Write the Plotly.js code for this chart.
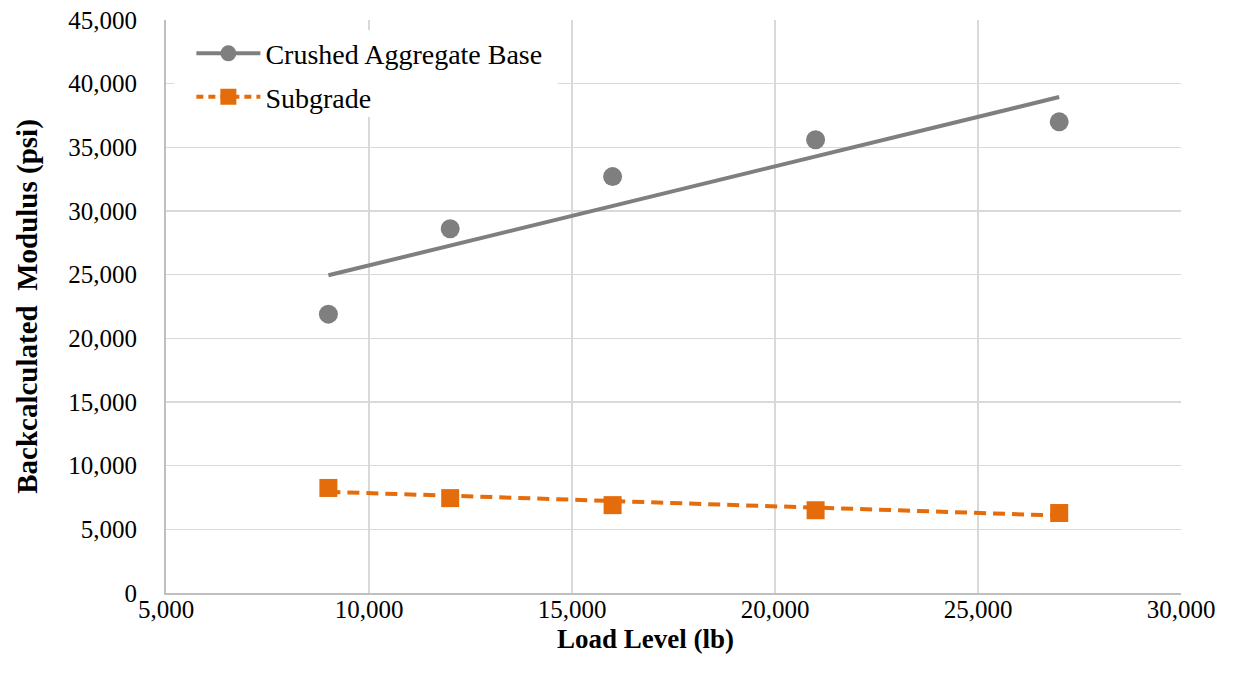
<!DOCTYPE html>
<html>
<head>
<meta charset="utf-8">
<script src="https://cdn.plot.ly/plotly-3.0.1.min.js"></script>
<style>html,body{margin:0;padding:0;background:#fff;}#chart{width:1245px;height:675px;}</style>
</head>
<body>
<div id="chart"></div>
<script>
// Data
const loadLevels = [9000, 12000, 16000, 21000, 27000];
const baseModulus = [21900, 28600, 32700, 35600, 37000];
const subgradeModulus = [8250, 7450, 6900, 6500, 6280];
// Linear trend lines (endpoints)
const trendX = [9000, 27000];
const baseTrend = [24950, 38950];
const subgradeTrend = [7950, 6080];
const xTickVals = [5000, 10000, 15000, 20000, 25000, 30000];
const yTickVals = [0, 5000, 10000, 15000, 20000, 25000, 30000, 35000, 40000, 45000];
const seriesNames = ['Crushed Aggregate Base', 'Subgrade'];
const xTitle = 'Load Level (lb)';
const yTitle = 'Backcalculated\u00a0 Modulus (psi)';

const gray = '#7f7f7f';
const orange = '#e46c0a';
const font = 'Liberation Serif, Times New Roman, serif';

const traces = [
  {x: trendX, y: baseTrend, mode: 'lines', line: {color: gray, width: 4}, showlegend: false, hoverinfo: 'skip'},
  {x: trendX, y: subgradeTrend, mode: 'lines', line: {color: orange, width: 4, dash: '12px,7px'}, showlegend: false, hoverinfo: 'skip'},
  {x: loadLevels, y: baseModulus, mode: 'markers', marker: {symbol: 'circle', size: 19, color: gray}, showlegend: false},
  {x: loadLevels, y: subgradeModulus, mode: 'markers', marker: {symbol: 'square', size: 18, color: orange}, showlegend: false},
  // legend entries (line + marker)
  {x: [null], y: [null], name: seriesNames[0], legendgroup: 'a', mode: 'lines+markers',
   line: {color: gray, width: 4}, marker: {symbol: 'circle', size: 19, color: gray}},
  {x: [null], y: [null], name: seriesNames[1], legendgroup: 'b', mode: 'lines+markers',
   line: {color: orange, width: 4, dash: '7px,5px'}, marker: {symbol: 'square', size: 18, color: orange}}
];

const layout = {
  width: 1245, height: 675,
  margin: {l: 166, r: 64, t: 20, b: 82},
  paper_bgcolor: '#fff', plot_bgcolor: '#fff',
  font: {family: font, color: '#000', size: 25},
  showlegend: true,
  legend: {
    x: 0.025, y: 0.985, xanchor: 'left', yanchor: 'top',
    bgcolor: 'rgba(0,0,0,0)', borderwidth: 0,
    font: {family: font, size: 28, color: '#000'},
    itemwidth: 64, tracegroupgap: 4, traceorder: 'grouped'
  },
  shapes: [{
    type: 'rect', xref: 'paper', yref: 'paper',
    x0: 0.008, x1: 0.386, y0: (593 - 117) / 573, y1: (593 - 30) / 573,
    fillcolor: '#fff', line: {width: 0}, layer: 'above'
  }],
  annotations: [{
    text: '<b>' + xTitle + '</b>', xref: 'paper', yref: 'paper', x: 0.472, y: 0,
    xanchor: 'center', yanchor: 'middle', yshift: -46, showarrow: false,
    font: {family: font, size: 27, color: '#000'}
  }],
  xaxis: {
    range: [5000, 30000], tickvals: xTickVals, tickformat: ',d',
    showgrid: true, gridcolor: '#d9d9d9', gridwidth: 1.5,
    showline: true, linecolor: '#bfbfbf', linewidth: 2,
    zeroline: false, ticks: '', tickfont: {family: font, size: 25, color: '#000'},
    ticklabelstandoff: -7
  },
  yaxis: {
    range: [0, 45000], tickvals: yTickVals, tickformat: ',d',
    showgrid: true, gridcolor: '#d9d9d9', gridwidth: 1.5,
    showline: true, linecolor: '#bfbfbf', linewidth: 2,
    zeroline: false, ticks: '', tickfont: {family: font, size: 25, color: '#000'}, ticklabelstandoff: 22,
    title: {text: '<b>' + yTitle + '</b>', font: {family: font, size: 29, color: '#000'}, standoff: 22}
  }
};

Plotly.newPlot('chart', traces, layout, {displayModeBar: false, staticPlot: true});
</script>
</body>
</html>
